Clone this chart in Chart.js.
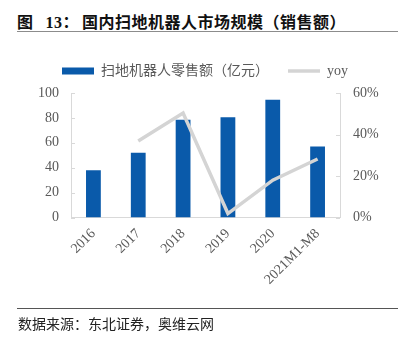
<!DOCTYPE html>
<html>
<head>
<meta charset="utf-8">
<script src="https://cdn.jsdelivr.net/npm/chart.js@4"></script>
<style>
  html, body { margin: 0; padding: 0; background: #fff; }
  #wrap { position: relative; width: 410px; height: 339px; overflow: hidden; }
  #title {
    position: absolute; left: 17px; top: 9px; width: 381px;
    font: bold 16px "Liberation Serif", "Noto Sans CJK SC", serif;
    color: #111; white-space: nowrap; letter-spacing: 0.5px;
  }
  #title .num { margin-left: 12px; margin-right: 3px; }
  #topline { position: absolute; left: 17px; top: 31px; width: 381px; height: 0; border-top: 1.5px solid #8c8c8c; }
  #footline { position: absolute; left: 17px; top: 308px; width: 381px; height: 0; border-top: 1.5px solid #555; }
  #source {
    position: absolute; left: 18px; top: 313px;
    font: 14px "Noto Sans CJK SC", sans-serif; color: #222; white-space: nowrap;
  }
  canvas { position: absolute; left: 0; top: 0; }
</style>
</head>
<body>
<div id="wrap">
  <div id="title">图<span class="num">13：</span>国内扫地机器人市场规模（销售额）</div>
  <div id="topline"></div>
  <canvas id="grafico" width="410" height="339"></canvas>
  <div id="footline"></div>
  <div id="source">数据来源：东北证券，奥维云网</div>
</div>
<script>
const categorias = ['2016', '2017', '2018', '2019', '2020', '2021M1-M8'];
const vendas = [38, 52, 78.5, 80.5, 94.5, 57];
const yoy = [null, 36.9, 50.3, 1.9, 18, 28.2];
const ticksEsq = [0, 20, 40, 60, 80, 100];
const ticksDir = [0, 20, 40, 60];

const corBarra = '#0a5aaa';
const corLinha = '#d4d4d4';
const corEixo = '#d9d9d9';
const corTexto = '#595959';
const fonteNum = { family: '"Liberation Serif", "Noto Sans CJK SC", serif', size: 14 };

// small inward tick marks on both value axes
const marcasInternas = {
    id: 'marcasInternas',
    beforeInit(chart) {
        const legend = chart.legend;
        const fitOriginal = legend.fit;
        legend.fit = function () {
            fitOriginal.call(this);
            this.height = 48;
        };
    },
    afterDraw(chart) {
        const ctx = chart.ctx;
        ctx.save();
        ctx.strokeStyle = corEixo;
        ctx.lineWidth = 1;
        ['y', 'y1'].forEach(function (id) {
            const s = chart.scales[id];
            const x0 = id === 'y' ? s.right : s.left;
            const dx = id === 'y' ? 4 : -4;
            s.ticks.forEach(function (t, i) {
                const y = Math.round(s.getPixelForTick(i)) + 0.5;
                ctx.beginPath();
                ctx.moveTo(x0, y);
                ctx.lineTo(x0 + dx, y);
                ctx.stroke();
            });
        });
        ctx.restore();
    }
};

const contexto = document.getElementById('grafico').getContext('2d');

const data = {
    labels: categorias,
    datasets: [{
        type: 'bar',
        label: '扫地机器人零售额（亿元）',
        data: vendas,
        backgroundColor: corBarra,
        borderWidth: 0,
        barPercentage: 0.66,
        categoryPercentage: 0.5,
        yAxisID: 'y',
        order: 1
    }, {
        type: 'line',
        label: 'yoy',
        data: yoy,
        borderColor: corLinha,
        backgroundColor: corLinha,
        borderWidth: 3.5,
        pointRadius: 0,
        tension: 0,
        yAxisID: 'y1',
        order: 0
    }]
};

const config = {
    data,
    options: {
        responsive: false,
        animation: false,
        layout: { padding: { top: 45, left: 0, right: 0, bottom: 0 } },
        plugins: {
            tooltip: { enabled: false },
            legend: {
                position: 'top',
                labels: {
                    usePointStyle: true,
                    pointStyleWidth: 32,
                    boxWidth: 32,
                    boxHeight: 7,
                    padding: 19,
                    color: corTexto,
                    font: fonteNum,
                    sort: (a, b) => a.datasetIndex - b.datasetIndex,
                    generateLabels(chart) {
                        const itens = Chart.defaults.plugins.legend.labels.generateLabels(chart);
                        itens.forEach(function (it) {
                            it.pointStyle = it.datasetIndex === 0 ? 'rect' : 'line';
                            if (it.datasetIndex === 0) it.lineWidth = 0;
                        });
                        return itens;
                    }
                }
            }
        },
        scales: {
            x: {
                grid: { display: false, drawTicks: false },
                border: { display: true, color: corEixo, width: 1 },
                ticks: {
                    color: corTexto, font: fonteNum, padding: 8,
                    maxRotation: 45, minRotation: 45, autoSkip: false
                },
                afterFit(s) { s.height = 339 - 217.5; }
            },
            y: {
                position: 'left',
                min: 0, max: 100,
                afterBuildTicks(s) { s.ticks = ticksEsq.map(v => ({ value: v })); },
                grid: { display: false, drawTicks: false },
                border: { display: true, color: corEixo, width: 1 },
                ticks: { color: corTexto, font: fonteNum, padding: 12 },
                afterFit(s) { s.width = 71; }
            },
            y1: {
                position: 'right',
                min: 0, max: 60,
                afterBuildTicks(s) { s.ticks = ticksDir.map(v => ({ value: v })); },
                grid: { display: false, drawTicks: false },
                border: { display: true, color: corEixo, width: 1 },
                ticks: { color: corTexto, font: fonteNum, padding: 13, callback: v => v + '%' },
                afterFit(s) { s.width = 70; }
            }
        }
    },
    plugins: [marcasInternas]
};

const grafico = new Chart(contexto, config);
</script>
</body>
</html>
